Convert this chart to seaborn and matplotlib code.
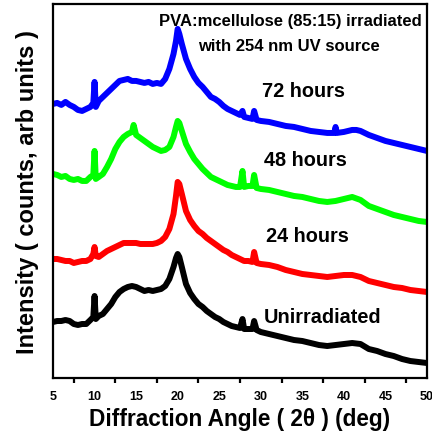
import matplotlib
matplotlib.use("Agg")
import matplotlib.pyplot as plt
import pandas as pd
import seaborn as sns

# diffraction angle (2theta, deg) and intensity (arb units)
x_72h = [5, 5.5, 6, 6.5, 7, 7.5, 8, 8.5, 9, 9.5, 9.85, 10, 10.15, 10.5, 11, 11.5, 12, 12.5,
         13, 13.5, 14, 14.5, 15, 15.5, 16, 16.5, 17, 17.5, 18, 18.5, 19, 19.5, 19.8, 20,
         20.2, 20.5, 21, 21.5, 22, 22.5, 23, 23.5, 24, 24.5, 25, 25.5, 26, 26.5, 27, 27.5,
         27.8, 28, 28.5, 29, 29.2, 29.5, 30, 31, 32, 33, 34, 35, 36, 37, 38, 38.85, 39, 39.15,
         40, 41, 41.5, 42, 43, 44, 45, 46, 47, 48, 49, 50]
y_72h = [274, 275, 273, 276, 273, 271, 268, 267, 269, 271, 275, 296, 271, 277, 281, 285, 289, 293,
         297, 298, 299, 297, 297, 296, 295, 296, 294, 295, 294, 299, 309, 324, 337, 349,
         344, 334, 319, 309, 301, 295, 291, 286, 281, 279, 276, 272, 269, 267, 265, 263,
         267, 261, 260, 259, 267, 258, 257, 256, 254, 252, 251, 249, 247, 246, 245, 245, 251, 245,
         246, 248, 248, 247, 243, 240, 237, 235, 233, 231, 229, 227]

x_48h = [5, 5.5, 6, 6.5, 7, 7.5, 8, 8.5, 9, 9.5, 9.85, 10, 10.15, 10.5, 11, 11.5, 12, 12.5,
         13, 13.5, 14, 14.5, 14.7, 15, 15.5, 16, 16.5, 17, 17.5, 18, 18.5, 19, 19.5, 19.8, 20,
         20.2, 20.5, 21, 21.5, 22, 22.5, 23, 23.5, 24, 24.5, 25, 25.5, 26, 26.5, 27, 27.5,
         27.8, 28, 28.5, 29, 29.2, 29.5, 30, 31, 32, 33, 34, 35, 36, 37, 38, 39,
         40, 41, 42, 43, 44, 45, 46, 47, 48, 49, 50]
y_48h = [204, 203, 201, 202, 199, 198, 199, 197, 197, 201, 203, 227, 199, 201, 204, 211, 219, 229,
         236, 241, 244, 246, 253, 243, 240, 237, 234, 231, 229, 227, 228, 231, 241, 251, 257,
         255, 247, 234, 226, 219, 214, 209, 205, 201, 199, 197, 195, 193, 192, 191, 191,
         207, 191, 192, 192, 203, 190, 189, 188, 186, 184, 182, 181, 179, 177, 176, 177,
         179, 181, 178, 172, 169, 166, 163, 161, 159, 157, 156]

x_24h = [5, 5.5, 6, 6.5, 7, 7.5, 8, 8.5, 9, 9.5, 9.85, 10, 10.15, 10.5, 11, 11.5, 12, 12.5,
         13, 13.5, 14, 14.5, 15, 15.5, 16, 16.5, 17, 17.5, 18, 18.5, 19, 19.5, 19.8, 20,
         20.2, 20.5, 21, 21.5, 22, 22.5, 23, 23.5, 24, 24.5, 25, 25.5, 26, 26.5, 27, 27.5,
         28, 28.5, 29, 29.2, 29.5, 30, 31, 32, 33, 34, 35, 36, 37, 38, 39,
         40, 41, 42, 43, 44, 45, 46, 47, 48, 49, 50]
y_24h = [119, 119, 118, 117, 117, 115, 116, 117, 117, 119, 124, 131, 122, 121, 124, 127, 129, 131,
         133, 135, 135, 135, 135, 134, 134, 134, 134, 135, 137, 141, 149, 164, 182, 196,
         194, 184, 167, 158, 152, 147, 144, 140, 137, 134, 131, 128, 126, 123, 121, 119,
         117, 117, 116, 126, 115, 114, 113, 111, 108, 106, 104, 103, 102, 101, 102,
         103, 103, 101, 97, 95, 93, 91, 90, 88, 87, 86]

x_0h = [5, 5.5, 6, 6.5, 7, 7.5, 8, 8.5, 9, 9.5, 9.85, 10, 10.15, 10.5, 11, 11.5, 12, 12.5,
        13, 13.5, 14, 14.5, 15, 15.5, 16, 16.5, 17, 17.5, 18, 18.5, 19, 19.5, 19.8, 20,
        20.2, 20.5, 21, 21.5, 22, 22.5, 23, 23.5, 24, 24.5, 25, 25.5, 26, 26.5, 27, 27.5,
        27.8, 28, 28.5, 29, 29.2, 29.5, 30, 31, 32, 33, 34, 35, 36, 37, 38, 39,
        40, 41, 42, 43, 44, 45, 46, 47, 48, 49, 50]
y_0h = [56, 57, 57, 58, 57, 54, 53, 54, 54, 58, 61, 82, 59, 62, 64, 69, 74, 81,
        86, 89, 91, 92, 91, 89, 87, 88, 87, 88, 89, 92, 99, 111, 120, 124,
        121, 111, 94, 85, 79, 74, 71, 67, 64, 61, 59, 56, 54, 52, 51, 50,
        59, 49, 49, 49, 57, 48, 46, 44, 42, 40, 38, 37, 35, 33, 32, 33,
        34, 35, 34, 29, 27, 24, 22, 19, 17, 16, 15]

series_names = ["72 hours", "48 hours", "24 hours", "Unirradiated"]
series_colors = ["#0000ff", "#00ff00", "#ff0000", "#000000"]

frames = []
for name, xs, ys in zip(series_names, [x_72h, x_48h, x_24h, x_0h], [y_72h, y_48h, y_24h, y_0h]):
    frames.append(pd.DataFrame({"angle": xs, "intensity": ys, "sample": name}))
df = pd.concat(frames, ignore_index=True)

sns.set_style("white")
plt.rcParams["font.family"] = ["Liberation Sans", "DejaVu Sans"]
plt.rcParams["font.weight"] = "bold"
plt.rcParams["text.color"] = "black"
plt.rcParams["axes.labelcolor"] = "black"
plt.rcParams["xtick.color"] = "black"

fig = plt.figure(figsize=(4.32, 4.35), dpi=100)
ax = fig.add_axes([0.1227, 0.1287, 0.8657, 0.86])

sns.lineplot(data=df, x="angle", y="intensity", hue="sample", hue_order=series_names,
             palette=series_colors, linewidth=4.3, legend=False, ax=ax, estimator=None, sort=True)

ax.set_xlim(5, 50)
ax.set_ylim(0, 374)
ax.set_xticks(range(5, 51, 5))
ax.set_xticks([x + 2.5 for x in range(5, 50, 5)], minor=True)
ax.set_yticks([])
ax.tick_params(axis="x", which="major", direction="out", length=4.5, width=1.6,
               labelsize=9, pad=4, labelcolor="black")
ax.tick_params(axis="x", which="minor", direction="out", length=3.5, width=1.6, bottom=True)
for lab in ax.get_xticklabels():
    lab.set_fontweight("bold")
for sp in ax.spines.values():
    sp.set_linewidth(1.6)
    sp.set_color("black")

ax.set_xlabel("Diffraction Angle ( 2\u03b8 ) (deg)", fontsize=16.3, fontweight="bold", labelpad=4)
ax.set_ylabel("Intensity ( counts, arb units )", fontsize=17, fontweight="bold", labelpad=10)

ax.text(33.6, 357, "PVA:mcellulose (85:15) irradiated", ha="center", va="center",
        fontsize=12, fontweight="bold")
ax.text(33.4, 332, "with 254 nm UV source", ha="center", va="center",
        fontsize=12, fontweight="bold")
label_pos = [(35.2, 287), (35.4, 218), (35.6, 142), (37.4, 61)]
for name, (lx, ly) in zip(series_names, label_pos):
    ax.text(lx, ly, name, ha="center", va="center", fontsize=14.3, fontweight="bold")

fig.savefig("out.png", dpi=100)
